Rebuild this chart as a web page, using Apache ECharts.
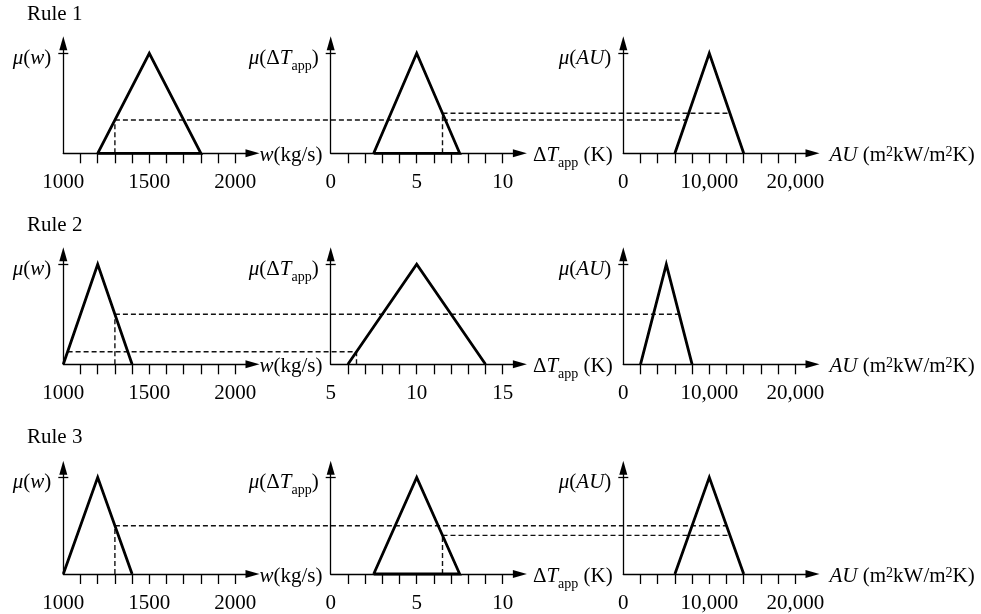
<!DOCTYPE html>
<html><head><meta charset="utf-8">
<script src="https://cdn.jsdelivr.net/npm/echarts@6/dist/echarts.min.js"></script>
<style>html,body{margin:0;padding:0;background:#fff}#c{width:981px;height:614px}</style>
</head><body><div id="c"></div>
<script>
// ---------- data ----------
const rowTitles = ['Rule 1', 'Rule 2', 'Rule 3'];
// triangular membership functions [left foot, peak, right foot] per rule
const wTriangles  = [[1200, 1500, 1800], [1000, 1200, 1400], [1000, 1200, 1400]];
const dtTriangles = [[2.5, 5, 7.5], [6, 10, 14], [2.5, 5, 7.5]];
const auTriangles = [[6000, 10000, 14000], [2000, 5000, 8000], [6000, 10000, 14000]];
// whether the triangle base is drawn as a thick line [w, dT, AU]
const baseClosed = [[true, true, false], [false, false, false], [false, true, false]];
// inputs and membership degrees
const wInput = 1300;
const dtInput = 6.5;
const muW  = [0.333, 0.5, 0.5];
const muDT = [0.4, 0.125, 0.4];
// horizontal dashed connectors: [rule, fromPanel, fromValue, toPanel, toValue, mu]
const connectors = [
  [0, 0, 1300, 2, 7333, 0.333],
  [0, 1, 6.5, 2, 12400, 0.4],
  [1, 0, 1025, 1, 6.5, 0.125],
  [1, 0, 1300, 2, 6500, 0.5],
  [2, 0, 1300, 2, 12000, 0.5],
  [2, 1, 6.5, 2, 12400, 0.4]
];
// axis ticks and labels
const wTicks  = [1100, 1200, 1300, 1400, 1500, 1600, 1700, 1800, 1900, 2000];
const wLabels = [1000, 1500, 2000];
const dtTicks  = [[1,2,3,4,5,6,7,8,9,10], [6,7,8,9,10,11,12,13,14,15], [1,2,3,4,5,6,7,8,9,10]];
const dtLabels = [[0, 5, 10], [5, 10, 15], [0, 5, 10]];
const auTicks  = [2000, 4000, 6000, 8000, 10000, 12000, 14000, 16000, 18000, 20000];
const auLabels = [0, 10000, 20000];

// ---------- layout ----------
const F = 'Liberation Serif';
const colLeft = [63.3, 330.7, 623.3];
const rowBase = [153.3, 364.3, 577.7];
const titleCenter = [15.7, 226.7, 439];
const panelW = 189.2, panelH = 110;
const xRanges = [
  [[1000, 2100], [0, 11], [0, 22000]],
  [[1000, 2100], [5, 16], [0, 22000]],
  [[1000, 2100], [0, 11], [0, 22000]]
];
const muMax = 1.1;
const rich = {
  i: {fontFamily: F, fontStyle: 'italic', fontSize: 21, color: '#000', lineHeight: 22, verticalAlign: 'top'},
  n: {fontFamily: F, fontSize: 21, color: '#000', lineHeight: 22, verticalAlign: 'top'},
  s: {fontFamily: F, fontSize: 14, color: '#000', lineHeight: 14, verticalAlign: 'top', padding: [11, 0, 0, 0]},
  p: {fontFamily: F, fontSize: 14, color: '#000', lineHeight: 14, verticalAlign: 'top', padding: [0, 0, 0, 0]}
};
const yLabelText = ['{i|μ}{n|(}{i|w}{n|)}', '{i|μ}{n|(Δ}{i|T}{s|app}{n|)}', '{i|μ}{n|(}{i|AU}{n|)}'];
const xNameText = ['{i|w}{n|(kg/s)}', '{n|Δ}{i|T}{s|app}{n| (K)}', '{i|AU}{n| (m}{p|2}{n|kW/m}{p|2}{n|K)}'];
const xNameGap = [7, 13, 17];
const fmtComma = v => String(v).replace(/\B(?=(\d{3})+(?!\d))/g, ',');
const lineCol = '#000';
const dashStyle = {color: '#111', width: 1.4, type: [5, 3]};

const grids = [], xAxes = [], yAxes = [], series = [];
for (let r = 0; r < 3; r++) {
  for (let c = 0; c < 3; c++) {
    const g = r * 3 + c;
    grids.push({left: colLeft[c], top: rowBase[r] - panelH, width: panelW, height: panelH});
    const ticks = c === 0 ? wTicks : (c === 1 ? dtTicks[r] : auTicks);
    const labels = c === 0 ? wLabels : (c === 1 ? dtLabels[r] : auLabels);
    xAxes.push({
      type: 'value', gridIndex: g, min: xRanges[r][c][0], max: xRanges[r][c][1],
      axisLine: {show: true, onZero: false, symbol: ['none', 'triangle'], symbolSize: [8, 14],
                 lineStyle: {color: lineCol, width: 1.3}},
      axisTick: {show: true, customValues: ticks, length: 10, lineStyle: {color: lineCol, width: 1.3}},
      axisLabel: {show: true, customValues: labels, margin: 19, fontFamily: F, fontSize: 21, color: '#000',
                  formatter: v => c === 2 ? fmtComma(v) : String(v)},
      splitLine: {show: false},
      name: xNameText[c], nameLocation: 'end', nameGap: xNameGap[c],
      nameTextStyle: {rich: rich, align: 'left', verticalAlign: 'middle', padding: [6, 0, 0, 0]}
    });
    yAxes.push({
      type: 'value', gridIndex: g, min: 0, max: muMax, position: 'left', offset: 0,
      axisLine: {show: true, onZero: false, symbol: ['none', 'triangle'], symbolSize: [8, 14],
                 lineStyle: {color: lineCol, width: 1.3}},
      axisTick: {show: true, customValues: [1], length: 5, lineStyle: {color: lineCol, width: 1.3}},
      axisLabel: {show: true, customValues: [1], margin: 12, formatter: () => yLabelText[c],
                  rich: rich, padding: [12, 0, 0, 0]},
      splitLine: {show: false}
    });
    yAxes.push({
      type: 'value', gridIndex: g, min: 0, max: muMax, position: 'left', offset: 0,
      axisLine: {show: false},
      axisTick: {show: true, inside: true, customValues: [1], length: 5, lineStyle: {color: lineCol, width: 1.3}},
      axisLabel: {show: false},
      splitLine: {show: false}
    });
    const tri = [wTriangles, dtTriangles, auTriangles][c][r];
    const pts = [[tri[0], 0], [tri[1], 1], [tri[2], 0]];
    if (baseClosed[r][c]) pts.push([tri[0], 0]);
    series.push({
      type: 'line', xAxisIndex: g, yAxisIndex: 2 * g, data: pts, symbol: 'none', clip: false, silent: true, z: 5,
      lineStyle: {color: '#000', width: 2.8, join: 'miter', cap: 'butt'}
    });
    if (c < 2) {
      const xv = c === 0 ? wInput : dtInput;
      const mu = c === 0 ? muW[r] : muDT[r];
      series.push({
        type: 'line', xAxisIndex: g, yAxisIndex: 2 * g, data: [[xv, 0], [xv, mu]], symbol: 'none', clip: false, silent: true, z: 3,
        lineStyle: dashStyle
      });
    }
  }
}

const chart = echarts.init(document.getElementById('c'), null, {renderer: 'canvas'});
chart.setOption({
  animation: false,
  backgroundColor: '#fff',
  title: rowTitles.map((t, r) => ({
    text: t, left: 27, top: titleCenter[r] - 12, padding: 0,
    textStyle: {fontFamily: F, fontSize: 21, fontWeight: 'normal', color: '#000'}
  })),
  grid: grids, xAxis: xAxes, yAxis: yAxes, series: series
});

// connectors: the start and end are data values in their own panels, placed with the library's scales
const graphics = [];
connectors.forEach(([r, p1, v1, p2, v2, mu]) => {
  const g1 = r * 3 + p1, g2 = r * 3 + p2;
  const a = chart.convertToPixel({xAxisIndex: g1, yAxisIndex: 2 * g1}, [v1, mu]);
  const b = chart.convertToPixel({xAxisIndex: g2, yAxisIndex: 2 * g2}, [v2, mu]);
  graphics.push({
    type: 'line', silent: true, z: 3,
    shape: {x1: a[0], y1: a[1], x2: b[0], y2: a[1]},
    style: {stroke: dashStyle.color, lineWidth: dashStyle.width, lineDash: dashStyle.type}
  });
});
chart.setOption({graphic: graphics});
</script>
</body></html>
